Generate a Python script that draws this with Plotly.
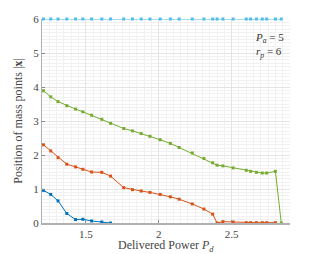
import plotly.graph_objects as go

x_all = [1.21, 1.26, 1.31, 1.37, 1.43, 1.48, 1.54, 1.61, 1.67, 1.76, 1.82, 1.88, 1.94,
         2.01, 2.08, 2.14, 2.23, 2.31, 2.37, 2.40, 2.44, 2.51, 2.60, 2.63, 2.67, 2.71,
         2.74, 2.80, 2.84]

x_blue = x_all[:9]
y_blue = [0.96, 0.84, 0.65, 0.28, 0.10, 0.11, 0.06, 0.03, 0.0]

x_orange = x_all[:28]
y_orange = [2.30, 2.12, 1.92, 1.73, 1.65, 1.58, 1.50, 1.49, 1.38, 1.04, 0.98, 0.94, 0.90,
            0.84, 0.77, 0.70, 0.56, 0.41, 0.26, 0.0, 0.04, 0.03, 0.01, 0.01, 0.01, 0.01,
            0.01, 0.01]

x_green = x_all
y_green = [3.89, 3.71, 3.57, 3.45, 3.35, 3.27, 3.17, 3.05, 2.93, 2.78, 2.71, 2.63, 2.55,
           2.45, 2.34, 2.22, 2.06, 1.90, 1.77, 1.70, 1.68, 1.62, 1.55, 1.52, 1.49, 1.47,
           1.47, 1.52, 0.0]

x_cyan = x_all
y_cyan = [6.0] * len(x_all)

x_ticks = [1.5, 2, 2.5]
x_ticklabels = ["1.5", "2", "2.5"]
y_ticks = [0, 1, 2, 3, 4, 5, 6]

series = [
    (x_blue, y_blue, "#0072BD"),
    (x_orange, y_orange, "#D95319"),
    (x_green, y_green, "#77AC30"),
    (x_cyan, y_cyan, "#4DBEEE"),
]

TFONT = "serif"
fig = go.Figure()
for xs, ys, c in series:
    fig.add_trace(go.Scatter(x=xs, y=ys, mode="lines+markers",
                             line=dict(color=c, width=1),
                             marker=dict(color=c, size=3, symbol="square"),
                             showlegend=False, cliponaxis=False))

grid_minor = dict(showgrid=True, gridcolor="#f1f1f1", gridwidth=1)
fig.update_xaxes(range=[1.2, 2.9], tickvals=x_ticks, ticktext=x_ticklabels,
                 automargin=False,
                 showgrid=True, gridcolor="#e4e4e4", gridwidth=1,
                 minor=dict(dtick=0.05, tick0=1.2, **grid_minor),
                 showline=True, linecolor="#b0b0b0", linewidth=1.5,
                 ticks="inside", ticklen=3, tickcolor="#888888",
                 zeroline=False, ticklabelstandoff=0,
                 tickfont=dict(family=TFONT, size=11, color="#444444"))
fig.update_yaxes(range=[0, 6], tickvals=y_ticks,
                 automargin=False,
                 showgrid=True, gridcolor="#e4e4e4", gridwidth=1,
                 minor=dict(dtick=0.1, tick0=0, **grid_minor),
                 showline=True, linecolor="#b0b0b0", linewidth=1,
                 ticks="inside", ticklen=3, tickcolor="#888888",
                 zeroline=False,
                 tickfont=dict(family=TFONT, size=11, color="#444444"),
                 title=dict(text="Position of mass points |<b>x</b>|",
                            font=dict(family=TFONT, size=12, color="#444444"),
                            standoff=8))

fig.add_annotation(x=0.5, y=-0.112, xref="paper", yref="paper", xanchor="center",
                   yanchor="middle", showarrow=False,
                   text="Delivered Power <i>P</i><sub><i>d</i></sub>",
                   font=dict(family=TFONT, size=12, color="#444444"))

fig.add_annotation(x=0.985, y=0.95, xref="paper", yref="paper", xanchor="right",
                   yanchor="top", align="left", showarrow=False,
                   text="<i>P</i><sub><i>a</i></sub> = 5<br><i>r</i><sub><i>p</i></sub> = 6",
                   font=dict(family=TFONT, size=11, color="#333333"))

fig.update_layout(width=320, height=254,
                  margin=dict(l=42, r=30, t=19, b=31),
                  plot_bgcolor="white", paper_bgcolor="white")

fig.write_html("out.html", config={"displayModeBar": False},
               post_script="document.body.style.margin='0px';")
